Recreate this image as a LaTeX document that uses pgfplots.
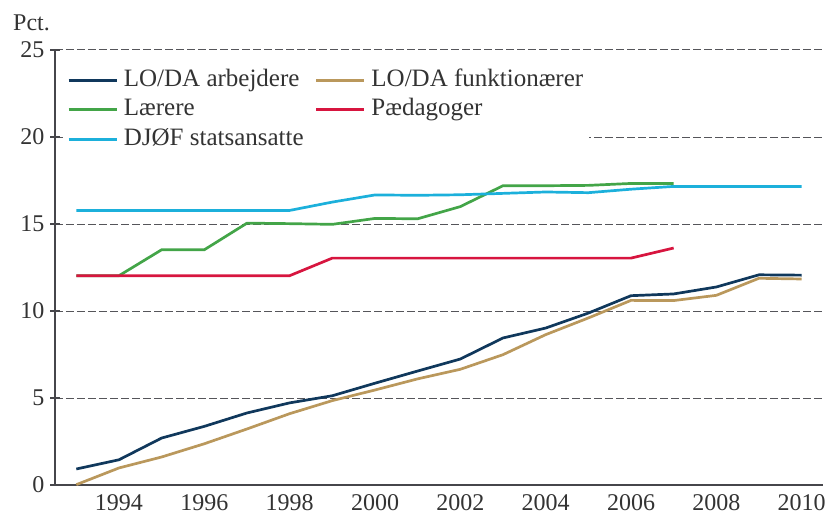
\documentclass[border=0pt]{standalone}
\usepackage{pgfplots}
\pgfplotsset{compat=1.18}
\usepackage{fontspec}
\setmainfont{Liberation Serif}
\definecolor{navy}{RGB}{16,56,92}
\definecolor{tan}{RGB}{186,152,92}
\definecolor{grn}{RGB}{67,165,72}
\definecolor{rd}{RGB}{215,21,63}
\definecolor{cyn}{RGB}{28,176,219}
\definecolor{gridc}{RGB}{85,85,90}
\definecolor{axc}{RGB}{70,70,75}
\begin{document}
\begin{tikzpicture}
\path[use as bounding box] (-55pt,-35pt) rectangle (775pt,485pt);
\begin{axis}[
  at={(0pt,0pt)}, anchor=south west,
  scale only axis, width=768pt, height=435pt,
  xmin=1992.5, xmax=2010.5, ymin=0, ymax=25,
  axis x line=bottom, axis y line=left,
  axis line style={axc, line width=1.2pt, -},
  xtick={1994,1996,...,2010},
  xticklabels={1994,1996,1998,2000,2002,2004,2006,2008,2010},
  minor xtick={1993.5,1994.5,...,2009.5},
  xtick style={draw=none},
  minor tick length=7pt,
  minor x tick style={axc, line width=1.2pt, yshift=-3.5pt},
  ytick={0,5,...,25},
  major tick length=10pt,
  tick align=center,
  ytick style={axc, line width=1.2pt},
  ymajorgrids, grid style={gridc, line width=1pt, dash pattern=on 8pt off 3pt},
  /pgf/number format/assume math mode=true,
  /pgf/number format/1000 sep={},
  tick label style={font=\fontsize{24}{28}\selectfont, text=black!80},
  xticklabel style={yshift=-1pt},
  yticklabel style={xshift=-2pt},
  legend columns=2,
  legend cell align=left,
  legend image code/.code={\draw[#1] (0pt,0pt) -- (48pt,0pt); \path (51pt,0pt);},
  legend style={at={(rel axis cs:0.0117,0.963)}, anchor=north west,
    draw=none, fill=white, font=\fontsize{25}{29}\selectfont, text=black!80,
    inner xsep=3pt, inner ysep=1pt, row sep=3.5pt,
    nodes={inner xsep=3pt, inner ysep=2pt, text height=17pt, text depth=5pt},
    /tikz/every even column/.append style={column sep=8pt}},
  clip=false,
]
\addplot[navy, line width=2.7pt] coordinates {
(1993,0.92) (1994,1.45) (1995,2.70) (1996,3.37) (1997,4.14) (1998,4.72)
(1999,5.13) (2000,5.85) (2001,6.55) (2002,7.24) (2003,8.45) (2004,9.02)
(2005,9.88) (2006,10.88) (2007,10.98) (2008,11.38) (2009,12.08) (2010,12.06)};
\addlegendentry{LO/DA arbejdere}
\addplot[tan, line width=2.7pt] coordinates {
(1993,0.02) (1994,0.98) (1995,1.61) (1996,2.37) (1997,3.22) (1998,4.10)
(1999,4.85) (2000,5.46) (2001,6.10) (2002,6.65) (2003,7.49) (2004,8.64)
(2005,9.60) (2006,10.61) (2007,10.60) (2008,10.90) (2009,11.88) (2010,11.84)};
\addlegendentry{LO/DA funktionærer}
\addplot[grn, line width=2.7pt] coordinates {
(1993,12.03) (1994,12.03) (1995,13.52) (1996,13.52) (1997,15.05) (1998,15.02)
(1999,14.98) (2000,15.32) (2001,15.30) (2002,16.00) (2003,17.20) (2004,17.20)
(2005,17.22) (2006,17.33) (2007,17.33)};
\addlegendentry{Lærere}
\addplot[rd, line width=2.7pt] coordinates {
(1993,12.03) (1994,12.03) (1995,12.03) (1996,12.03) (1997,12.03) (1998,12.03)
(1999,13.04) (2000,13.04) (2001,13.04) (2002,13.04) (2003,13.04) (2004,13.04)
(2005,13.04) (2006,13.04) (2007,13.62)};
\addlegendentry{Pædagoger}
\addplot[cyn, line width=2.7pt] coordinates {
(1993,15.78) (1994,15.78) (1995,15.78) (1996,15.78) (1997,15.78) (1998,15.78)
(1999,16.26) (2000,16.67) (2001,16.65) (2002,16.68) (2003,16.76) (2004,16.84)
(2005,16.80) (2006,17.00) (2007,17.16) (2008,17.16) (2009,17.16) (2010,17.16)};
\addlegendentry{DJØF statsansatte}
\node[anchor=base west, font=\fontsize{24}{28}\selectfont, text=black!80, inner sep=0pt]
  at (rel axis cs:0,1) [xshift=-42pt, yshift=19pt] {Pct.};
\end{axis}
\end{tikzpicture}
\end{document}
